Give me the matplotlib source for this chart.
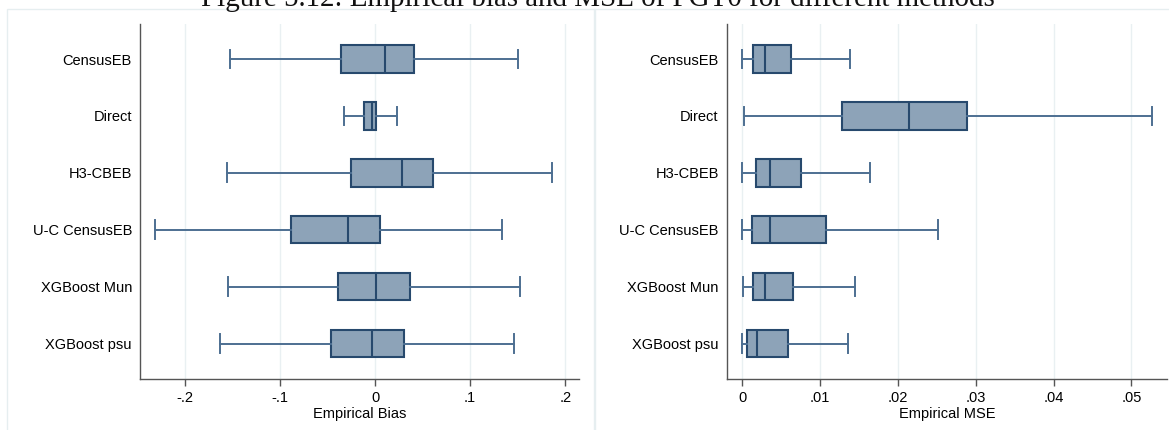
import matplotlib
matplotlib.use("Agg")
import matplotlib.pyplot as plt
from matplotlib.patches import Rectangle

W, H = 1169, 430
DPI = 100

# ---------------- data ----------------
methods = ["CensusEB", "Direct", "H3-CBEB", "U-C CensusEB", "XGBoost Mun", "XGBoost psu"]

bias_lo  = [-0.1525, -0.0330, -0.1560, -0.2313, -0.1550, -0.1633]
bias_q1  = [-0.0357, -0.0112, -0.0256, -0.0880, -0.0389, -0.0466]
bias_med = [ 0.0105, -0.0035,  0.0280, -0.0287,  0.0014, -0.0032]
bias_q3  = [ 0.0410,  0.0014,  0.0607,  0.0056,  0.0372,  0.0302]
bias_hi  = [ 0.1500,  0.0228,  0.1860,  0.1332,  0.1528,  0.1460]

mse_lo  = [0.00004, 0.00030, 0.00004, 0.00004, 0.00017, 0.00000]
mse_q1  = [0.00140, 0.01280, 0.00180, 0.00128, 0.00140, 0.00068]
mse_med = [0.00290, 0.02144, 0.00355, 0.00364, 0.00300, 0.00188]
mse_q3  = [0.00630, 0.02884, 0.00757, 0.01078, 0.00659, 0.00586]
mse_hi  = [0.01386, 0.05263, 0.01643, 0.02512, 0.01450, 0.01356]

bias_ticks = [-0.2, -0.1, 0.0, 0.1, 0.2]
bias_ticklabels = ["-.2", "-.1", "0", ".1", ".2"]
mse_ticks = [0.0, 0.01, 0.02, 0.03, 0.04, 0.05]
mse_ticklabels = ["0", ".01", ".02", ".03", ".04", ".05"]

title = "Figure 5.12: Empirical bias and MSE of FGT0 for different methods"

# ---------------- style ----------------
FONT = "Liberation Sans"
FS = 10.5
BOX_FACE = "#8da3b8"
BOX_EDGE = "#27496d"
WHISK = "#4d6f92"
GRID = "#e9f0f2"
SPINE = "#555555"
FRAME = "#e6eef0"

fig = plt.figure(figsize=(W / DPI, H / DPI), dpi=DPI)
fig.patch.set_facecolor("white")

def px_rect(x0, y0, x1, y1):
    # pixel coords (top-left origin) -> figure fraction [l, b, w, h]
    return [x0 / W, 1 - y1 / H, (x1 - x0) / W, (y1 - y0) / H]

# panel frames
for (x0, x1) in [(7, 595), (594, 1175)]:
    fig.patches.append(Rectangle((x0 / W, -0.05), (x1 - x0) / W, 1 - 9 / H + 0.05,
                                 transform=fig.transFigure, fill=False,
                                 edgecolor=FRAME, linewidth=1.0, zorder=0))

def make_panel(rect, lo, q1, med, q3, hi, ticks, ticklabels, xlim, xlabel):
    ax = fig.add_axes(rect)
    stats = []
    for i, m in enumerate(methods):
        stats.append(dict(label=m, whislo=lo[i], q1=q1[i], med=med[i],
                          q3=q3[i], whishi=hi[i], fliers=[]))
    pos = list(range(len(methods)))
    ax.bxp(stats, positions=pos, vert=False, widths=0.48, capwidths=0.33,
           patch_artist=True, showfliers=False,
           boxprops=dict(facecolor=BOX_FACE, edgecolor=BOX_EDGE, linewidth=1.5),
           medianprops=dict(color=BOX_EDGE, linewidth=1.5),
           whiskerprops=dict(color=WHISK, linewidth=1.4),
           capprops=dict(color=WHISK, linewidth=1.4))
    ax.set_ylim(len(methods) - 1 + 0.615, -0.615)
    ax.set_xlim(*xlim)
    ax.set_yticks(pos)
    ax.set_yticklabels(methods, fontfamily=FONT, fontsize=FS)
    ax.set_xticks(ticks)
    ax.set_xticklabels(ticklabels, fontfamily=FONT, fontsize=FS)
    ax.tick_params(axis="y", length=0, pad=6)
    ax.tick_params(axis="x", length=5, width=1, color=SPINE, pad=4)
    for s in ["top", "right"]:
        ax.spines[s].set_visible(False)
    for s in ["left", "bottom"]:
        ax.spines[s].set_color(SPINE)
        ax.spines[s].set_linewidth(1.0)
    ax.set_axisbelow(True)
    ax.grid(axis="x", color=GRID, linewidth=1.0)
    ax.grid(axis="y", visible=False)
    ax.set_xlabel(xlabel, fontfamily=FONT, fontsize=FS, labelpad=1)
    ax.set_facecolor("none")
    return ax

make_panel(px_rect(140.3, 24, 579, 378.7), bias_lo, bias_q1, bias_med, bias_q3, bias_hi,
           bias_ticks, bias_ticklabels, (-0.2468, 0.2145), "Empirical Bias")
make_panel(px_rect(727, 24, 1166.7, 378.7), mse_lo, mse_q1, mse_med, mse_q3, mse_hi,
           mse_ticks, mse_ticklabels, (-0.00193, 0.05452), "Empirical MSE")

# title, cut at the top edge like the reference
t = fig.text(598 / W, 1 - 6 / H, title, ha="center", va="baseline",
             fontfamily="Liberation Serif", fontsize=18, color="#111111")
fig.canvas.draw()
bb = t.get_window_extent()
t.set_fontsize(18 * 797 / bb.width)

fig.savefig("out.png", dpi=DPI, facecolor="white")
